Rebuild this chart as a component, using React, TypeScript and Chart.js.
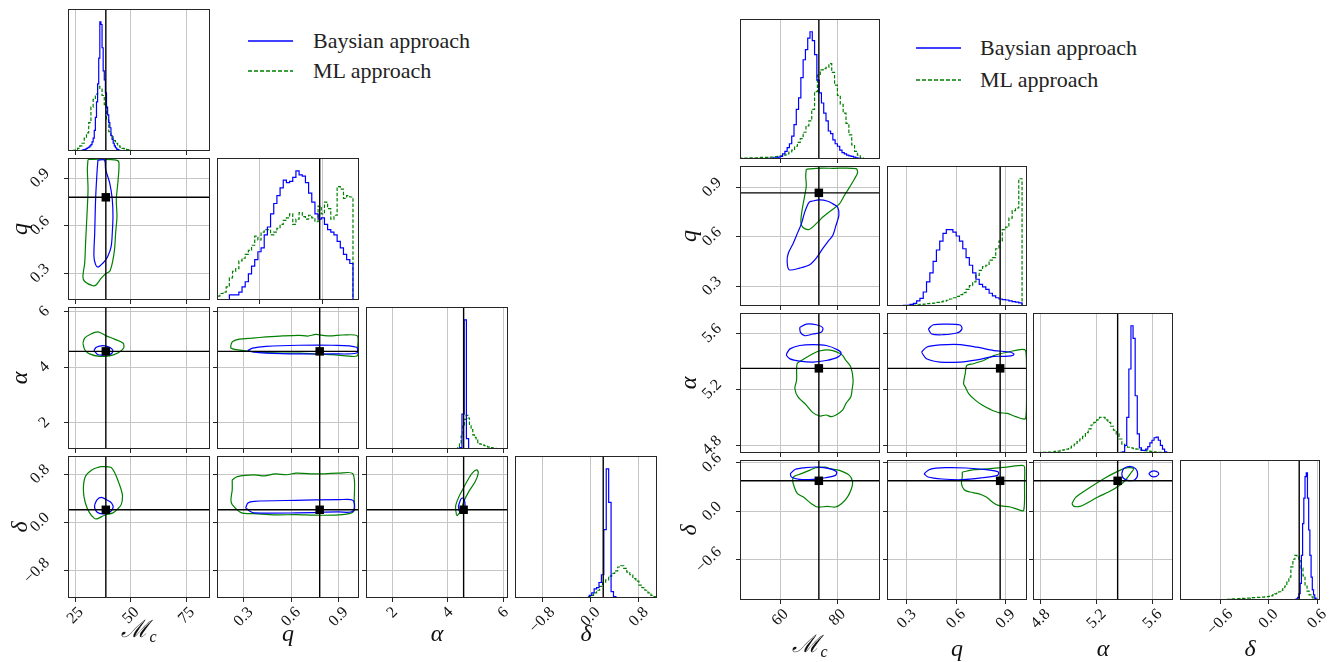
import React, { useEffect, useRef } from "react";
import { Chart, registerables } from "chart.js";

Chart.register(...registerables);

const FONT = '"Liberation Serif", "DejaVu Serif", serif';
const BLUE = "#0000ff";
const GREEN = "#008000";

// ======================= LEFT CORNER PLOT =======================
// variable order: Mc, q, alpha, delta
const truthsL = [38.7, 0.78, 4.57, 0.21];
const rangesL = [[21.7, 85.5], [0.132, 1.028], [1.05, 6.17], [-1.25, 1.1]];
const ticksL = [[25, 50, 75], [0.3, 0.6, 0.9], [2, 4, 6], [-0.8, 0, 0.8]];
const histTicksL = [[25, 50, 75], [0.4, 0.8], [2, 4, 6], [-0.8, 0, 0.8]];
const tickLabelsL = [["25", "50", "75"], ["0.3", "0.6", "0.9"], ["2", "4", "6"], ["−0.8", "0.0", "0.8"]];

// histograms: values + [first bin edge, bin width]
const histMcBlueL = [0.5, 1, 1, 1.5, 2, 2.5, 3, 4, 5, 7, 10, 16, 26, 38, 52, 72, 100, 98, 80, 62, 55, 45, 34, 28, 22, 18, 12, 9, 6, 4, 2.5, 1.5, 1, 0.5, 0.3];
const binsMcBlueL = [28, 0.5];
const histMcGreenL = [0.5, 1, 2, 4, 6, 10, 14, 22, 34, 40, 44, 50, 48, 43, 36, 24, 15, 11, 8, 6, 4, 3, 2, 1.5, 1, 0.5, 0.3];
const binsMcGreenL = [24, 1];
const histQBlueL = [4, 4, 4, 6, 10, 14, 20, 26, 31, 37, 40, 50, 56, 66, 74, 80, 86, 92, 90, 91, 94, 99, 96, 95, 90, 82, 75, 66, 62, 63, 58, 54, 52, 50, 45, 40, 35, 31, 28];
const binsQBlueL = [0.21, 0.02];
const histQGreenL = [3, 5, 6, 10, 17, 22, 24, 30, 32, 35, 38, 42, 49, 46, 52, 54, 54, 50, 52, 55, 58, 61, 63, 66, 58, 62, 67, 64, 62, 65, 63, 60, 72, 66, 75, 70, 62, 65, 87, 85, 78, 80, 79];
const binsQGreenL = [0.13, 0.02];
const histABlueL = [1, 27, 100, 8];
const binsABlueL = [4.43, 0.08];
const histAGreenL = [1, 4, 10, 18, 23, 26, 24, 19, 15, 11, 9, 7, 5, 4, 3.5, 3, 2.5, 2, 1.5, 1, 1, 0.7, 0.5, 0.3];
const binsAGreenL = [4.36, 0.06];
const histDBlueL = [2, 4, 7, 8, 12, 18, 53, 100, 74, 5, 1];
const binsDBlueL = [-0.02, 0.04];
const histDGreenL = [1, 2, 4, 6, 9, 12, 14, 17, 19, 21, 24, 25, 23, 20, 18, 15, 13, 10, 8, 6, 4, 2, 1];
const binsDGreenL = [-0.05, 0.05];

// contours: [x, y] pairs
const cQMcBL = [[35.15, 1.015], [38.1, 1.015], [38.6, 0.956], [40.4, 0.872], [41.6, 0.766], [41.9, 0.661], [41.6, 0.555], [41.1, 0.471], [39.6, 0.408], [38.1, 0.376], [36.65, 0.355], [35.15, 0.34], [34.1, 0.355], [33.35, 0.408], [33.7, 0.555], [34.1, 0.766], [34.7, 0.93]];
const cQMcGL = [[30.7, 1.019], [37, 1.02], [43.4, 1.015], [44.6, 0.998], [44.1, 0.872], [43.4, 0.766], [43.7, 0.661], [43.1, 0.555], [42.6, 0.45], [41.6, 0.365], [40.4, 0.313], [38.6, 0.298], [36.65, 0.27], [34.4, 0.228], [32.9, 0.222], [29.2, 0.249], [28.4, 0.281], [29.2, 0.365], [29.6, 0.492], [30.2, 0.661], [30.7, 0.83], [30.4, 0.956]];
const cAMcBL = [[33.35, 4.6], [34.4, 4.72], [37.4, 4.78], [40.4, 4.72], [41.9, 4.6], [41.1, 4.48], [38.1, 4.44], [35.15, 4.45]];
const cAMcGL = [[28.4, 4.87], [29.2, 5.05], [31.4, 5.17], [35.15, 5.27], [38.9, 5.13], [42.6, 5.01], [46.4, 4.87], [46.7, 4.69], [44.1, 4.51], [40.4, 4.41], [35.9, 4.39], [31.4, 4.48], [29.2, 4.63]];
const cAQBL = [[0.325, 4.6], [0.357, 4.69], [0.441, 4.75], [0.65, 4.79], [0.86, 4.79], [1.013, 4.72], [1.013, 4.51], [0.86, 4.48], [0.65, 4.48], [0.441, 4.51], [0.357, 4.55]];
const cAQGL = [[0.22, 4.81], [0.231, 4.93], [0.273, 5.01], [0.357, 5.05], [0.441, 5.09], [0.545, 5.13], [0.65, 5.15], [0.705, 5.12], [0.755, 5.18], [0.81, 5.14], [0.86, 5.13], [0.923, 5.16], [1.017, 5.13], [1.02, 4.75], [1.017, 4.41], [0.944, 4.41], [0.86, 4.45], [0.755, 4.48], [0.65, 4.51], [0.545, 4.51], [0.441, 4.53], [0.336, 4.57], [0.252, 4.63], [0.22, 4.69]];
const cDMcBL = [[33.7, 0.295], [34.8, 0.377], [36.7, 0.415], [39.0, 0.377], [41.3, 0.322], [41.9, 0.24], [40.0, 0.158], [37.1, 0.141], [34.8, 0.169], [33.7, 0.24]];
const cDMcGL = [[36.2, 0.925], [40.9, 0.914], [42.8, 0.815], [44.3, 0.678], [45.6, 0.541], [46.2, 0.432], [45.6, 0.295], [43.75, 0.213], [41.9, 0.158], [38.1, 0.12], [34.8, 0.06], [33.3, 0.076], [31.4, 0.158], [29.5, 0.322], [28.6, 0.541], [29.5, 0.76], [32.4, 0.87]];
const cDQBL = [[0.313, 0.24], [0.327, 0.322], [0.366, 0.35], [0.631, 0.366], [0.897, 0.377], [0.99, 0.366], [0.99, 0.185], [0.897, 0.174], [0.631, 0.158], [0.366, 0.158], [0.34, 0.185]];
const cDQGL = [[0.228, 0.706], [0.26, 0.76], [0.366, 0.788], [0.43, 0.77], [0.499, 0.804], [0.57, 0.79], [0.631, 0.815], [0.764, 0.804], [0.897, 0.815], [0.99, 0.804], [0.998, 0.377], [0.995, 0.185], [0.923, 0.13], [0.764, 0.12], [0.631, 0.13], [0.499, 0.125], [0.366, 0.147], [0.287, 0.158], [0.228, 0.295], [0.22, 0.377], [0.228, 0.541]];
const cDABL = [[4.38, 0.267], [4.46, 0.377], [4.53, 0.404], [4.61, 0.35], [4.61, 0.24], [4.53, 0.158], [4.43, 0.169]];
const cDAGL = [[4.31, 0.13], [4.28, 0.267], [4.38, 0.404], [4.53, 0.541], [4.69, 0.678], [4.88, 0.815], [5.04, 0.87], [5.1, 0.826], [4.99, 0.678], [4.76, 0.514], [4.58, 0.35], [4.46, 0.185], [4.34, 0.114]];

// ======================= RIGHT CORNER PLOT =======================
const truthsR = [73.5, 0.867, 5.35, 0.378];
const rangesR = [[45.9, 94.9], [0.18, 1.03], [4.746, 5.745], [-1.095, 0.635]];
const ticksR = [[60, 80], [0.3, 0.6, 0.9], [4.8, 5.2, 5.6], [-0.6, 0, 0.6]];
const histTicksR = [[60, 80], [0.3, 0.6, 0.9], [4.8, 5.2, 5.6], [-0.6, 0, 0.6]];
const tickLabelsR = [["60", "80"], ["0.3", "0.6", "0.9"], ["4.8", "5.2", "5.6"], ["−0.6", "0.0", "0.6"]];

const histMcBlueR = [0.5, 0.5, 1, 1, 1.5, 2, 4, 6, 9, 12, 18, 27, 39, 48, 64, 78, 86, 95, 100, 93, 82, 62, 52, 44, 36, 30, 22, 20, 15, 12, 10, 7, 5, 4, 3, 2.5, 2, 1.5, 1, 0.5, 0.3];
const binsMcBlueR = [56, 0.8];
const histMcGreenR = [0.8, 0.8, 0.8, 1, 1, 1, 1, 1.2, 1.2, 1.3, 1.5, 1.5, 1.8, 2, 2.5, 3, 4, 5.5, 7, 10, 13, 16, 21, 26, 30, 39, 53, 66, 70, 71, 72, 75, 68, 58, 50, 43, 36, 28, 19, 11, 6, 3, 1];
const binsMcGreenR = [46, 1];
const histQBlueR = [0.3, 0.4, 0.5, 0.6, 1.2, 2, 4, 6, 11, 19, 26, 35, 44, 51, 57, 60, 60, 58, 55, 51, 45, 38, 32, 26, 21, 17, 15, 13, 10, 8, 6.5, 5.5, 5, 4.7, 4, 3.5, 3, 2.4];
const binsQBlueR = [0.24, 0.02];
const histQGreenR = [0.2, 0.2, 0.3, 0.3, 0.4, 0.4, 0.5, 0.6, 0.8, 1, 1.2, 1.5, 1.8, 2, 2.3, 2.8, 3.2, 3.8, 4.5, 5.5, 6.5, 7.5, 9, 10.5, 13, 16, 19, 24, 28, 31, 32, 36, 38, 45, 51, 60, 62, 69, 75, 77, 100];
const binsQGreenR = [0.18, 0.02];
const histABlueR = [0.5, 1, 6, 28, 66, 100, 90, 45, 15, 4, 2, 2, 3, 5, 8, 10, 12, 12.5, 10, 6, 3, 1];
const binsABlueR = [5.37, 0.015];
const histAGreenR = [0.3, 0.4, 0.5, 0.6, 0.7, 0.8, 1, 1.2, 1.5, 2, 2.5, 3, 4, 5.5, 7, 9, 11, 13, 16, 19, 22, 24, 26, 28, 28, 26, 24, 21, 18, 15, 11, 7, 5, 4.5, 4, 3.5, 3, 2.5, 2, 1.8, 1.5, 1.2, 1, 0.8, 0.5, 0.4, 0.3];
const binsAGreenR = [4.76, 0.02];
const histDBlueR = [0.5, 1, 2, 5, 13, 35, 60, 80, 97, 100, 80, 55, 35, 18, 8, 4, 1.5, 0.5];
const binsDBlueR = [0.33, 0.015];
const histDGreenR = [0.3, 0.3, 0.4, 0.5, 0.6, 0.7, 0.9, 1, 1, 1.1, 1.2, 1.3, 1.3, 1.4, 1.5, 1.6, 1.8, 1.9, 2, 2.1, 2.2, 2.3, 2.4, 2.6, 2.8, 3.3, 4, 4.8, 5.5, 6.5, 7.5, 9, 11, 14, 18, 26, 32, 35, 34, 31, 25, 19, 11, 7, 4, 2.5, 1.2, 0.5];
const binsDGreenR = [-0.6, 0.025];

const cQMcBR = [[70.3, 0.814], [73.8, 0.824], [76.6, 0.816], [78.4, 0.8], [80.1, 0.78], [80.5, 0.73], [79.5, 0.67], [78.4, 0.61], [76.6, 0.57], [74.9, 0.53], [72.6, 0.47], [70.3, 0.43], [66.8, 0.41], [63.1, 0.4], [62.4, 0.45], [62.8, 0.5], [64.5, 0.56], [66.2, 0.63], [67.4, 0.68], [68.55, 0.75], [69.7, 0.8]];
const cQMcGR = [[69.1, 1.01], [72.6, 1.016], [78.4, 1.016], [86.5, 1.014], [87.05, 0.99], [85.9, 0.95], [84.2, 0.9], [82.4, 0.85], [80.7, 0.8], [77.8, 0.76], [74.9, 0.72], [72.6, 0.68], [70.3, 0.646], [68.55, 0.65], [67.4, 0.67], [67.2, 0.7], [67.7, 0.77], [68.55, 0.85], [69.1, 0.91], [68.9, 0.97]];
const cAMcB1R = [[66.8, 5.642], [69.1, 5.666], [72.6, 5.661], [74.9, 5.638], [74.3, 5.607], [71.4, 5.595], [68.55, 5.583], [67.05, 5.607]];
const cAMcB2R = [[62.2, 5.454], [63.4, 5.489], [66.8, 5.513], [71.4, 5.52], [76.1, 5.513], [80.1, 5.482], [81.3, 5.458], [80.1, 5.43], [76.1, 5.406], [71.4, 5.395], [66.8, 5.402], [63.4, 5.418], [62.2, 5.442]];
const cAMcGR = [[73.2, 5.472], [76.1, 5.482], [78.4, 5.477], [80.7, 5.458], [81.8, 5.442], [83.0, 5.406], [84.7, 5.359], [85.5, 5.265], [85.1, 5.194], [84.7, 5.147], [83.0, 5.1], [81.8, 5.052], [79.5, 5.017], [77.8, 5.005], [76.1, 5.017], [73.8, 5.01], [71.4, 5.034], [69.1, 5.088], [66.2, 5.147], [65.1, 5.206], [65.7, 5.265], [65.9, 5.383], [67.4, 5.406], [70.3, 5.442]];
const cAQB1R = [[0.431, 5.631], [0.461, 5.661], [0.543, 5.666], [0.624, 5.659], [0.635, 5.631], [0.604, 5.602], [0.522, 5.59], [0.451, 5.595]];
const cAQB2R = [[0.39, 5.465], [0.42, 5.501], [0.502, 5.517], [0.624, 5.52], [0.727, 5.501], [0.829, 5.477], [0.931, 5.465], [0.951, 5.449], [0.92, 5.437], [0.829, 5.435], [0.727, 5.411], [0.624, 5.395], [0.502, 5.395], [0.42, 5.418]];
const cAQGR = [[0.767, 5.406], [0.829, 5.442], [0.91, 5.465], [1.022, 5.477], [1.027, 5.24], [1.022, 4.994], [0.961, 5.005], [0.91, 5.029], [0.859, 5.034], [0.808, 5.057], [0.757, 5.088], [0.716, 5.123], [0.676, 5.17], [0.655, 5.218], [0.645, 5.241], [0.655, 5.312], [0.665, 5.371], [0.706, 5.383]];
const cDMcBR = [[63.5, 0.466], [65.3, 0.52], [68.8, 0.54], [73.0, 0.548], [77.2, 0.528], [79.7, 0.487], [79.3, 0.445], [75.8, 0.416], [71.6, 0.396], [66.7, 0.396], [63.9, 0.425]];
const cDMcGR = [[72.3, 0.54], [75.8, 0.548], [77.2, 0.528], [80.7, 0.507], [84.2, 0.445], [85.3, 0.363], [84.9, 0.28], [83.5, 0.177], [81.4, 0.095], [79.3, 0.054], [76.5, 0.062], [73.0, 0.054], [70.9, 0.095], [68.1, 0.177], [66.0, 0.219], [64.9, 0.301], [64.3, 0.384], [64.9, 0.433], [67.4, 0.466], [70.2, 0.507]];
const cDQBR = [[0.405, 0.466], [0.441, 0.52], [0.539, 0.54], [0.661, 0.536], [0.783, 0.515], [0.856, 0.487], [0.851, 0.445], [0.759, 0.416], [0.637, 0.392], [0.515, 0.4], [0.429, 0.425]];
const cDQGR = [[0.637, 0.487], [0.71, 0.515], [0.807, 0.528], [0.905, 0.548], [1.002, 0.569], [1.015, 0.548], [1.015, 0.342], [1.01, 0.012], [0.978, 0.021], [0.929, 0.054], [0.856, 0.074], [0.82, 0.115], [0.783, 0.177], [0.734, 0.219], [0.685, 0.239], [0.649, 0.268], [0.632, 0.342], [0.637, 0.425]];
const cDAGR = [[5.024, 0.095], [5.052, 0.177], [5.138, 0.28], [5.251, 0.404], [5.365, 0.507], [5.422, 0.54], [5.464, 0.528], [5.45, 0.487], [5.393, 0.363], [5.308, 0.26], [5.209, 0.177], [5.123, 0.095], [5.081, 0.062], [5.038, 0.062]];
const cDAB1R = [[5.379, 0.466], [5.393, 0.528], [5.436, 0.557], [5.478, 0.528], [5.493, 0.458], [5.473, 0.392], [5.422, 0.384], [5.388, 0.416]];
const cDAB2R = [[5.572, 0.466], [5.592, 0.495], [5.626, 0.495], [5.643, 0.466], [5.626, 0.433], [5.592, 0.433]];

const legendLabels = ["Baysian approach", "ML approach"];
const axisTitles = ["Mc", "q", "α", "δ"];

// ---------------- tables built from the arrays above ----------------
const histsL = [
  [histMcBlueL, binsMcBlueL, histMcGreenL, binsMcGreenL],
  [histQBlueL, binsQBlueL, histQGreenL, binsQGreenL],
  [histABlueL, binsABlueL, histAGreenL, binsAGreenL],
  [histDBlueL, binsDBlueL, histDGreenL, binsDGreenL],
];
const histsR = [
  [histMcBlueR, binsMcBlueR, histMcGreenR, binsMcGreenR],
  [histQBlueR, binsQBlueR, histQGreenR, binsQGreenR],
  [histABlueR, binsABlueR, histAGreenR, binsAGreenR],
  [histDBlueR, binsDBlueR, histDGreenR, binsDGreenR],
];
const contoursL: Record<string, number[][][][]> = {
  "1,0": [[cQMcBL], [cQMcGL]],
  "2,0": [[cAMcBL], [cAMcGL]],
  "2,1": [[cAQBL], [cAQGL]],
  "3,0": [[cDMcBL], [cDMcGL]],
  "3,1": [[cDQBL], [cDQGL]],
  "3,2": [[cDABL], [cDAGL]],
};
const contoursR: Record<string, number[][][][]> = {
  "1,0": [[cQMcBR], [cQMcGR]],
  "2,0": [[cAMcB1R, cAMcB2R], [cAMcGR]],
  "2,1": [[cAQB1R, cAQB2R], [cAQGR]],
  "3,0": [[cDMcBR], [cDMcGR]],
  "3,1": [[cDQBR], [cDQGR]],
  "3,2": [[cDAB1R, cDAB2R], [cDAGR]],
};

// layout (pixels)
const colsL = [68, 217, 366, 515];
const rowsL = [9, 158, 307, 456];
const sizeL = 142;
const colsR = [740, 887, 1033, 1180];
const rowsR = [19, 166, 313, 460];
const sizeR = 140;

const PADL = 64, PADR = 8, PADT = 8, PADB = 56;

function histLine(values: number[], bins: number[], xr: number[], color: string, dashed: boolean) {
  const [start, w] = bins;
  const pts: { x: number; y: number }[] = [{ x: xr[0], y: 0 }];
  values.forEach((v, i) => pts.push({ x: start + i * w, y: v }));
  pts.push({ x: start + values.length * w, y: 0 });
  pts.push({ x: xr[1], y: 0 });
  return {
    data: pts, borderColor: color, borderWidth: 1.2, borderDash: dashed ? [3.5, 1.8] : [],
    stepped: true, pointRadius: 0, tension: 0, order: dashed ? 3 : 2,
  };
}
function contourLine(pts: number[][], color: string, order: number) {
  const d = [...pts, pts[0]].map(([x, y]) => ({ x, y }));
  return { data: d, borderColor: color, borderWidth: 1.2, pointRadius: 0, tension: 0.3, order };
}
function truthV(t: number, yr: number[]) {
  return { data: [{ x: t, y: yr[0] }, { x: t, y: yr[1] }], borderColor: "#000", borderWidth: 1.4, pointRadius: 0, tension: 0, order: 1 };
}
function truthH(t: number, xr: number[]) {
  return { data: [{ x: xr[0], y: t }, { x: xr[1], y: t }], borderColor: "#000", borderWidth: 1.4, pointRadius: 0, tension: 0, order: 1 };
}
function marker(tx: number, ty: number) {
  return {
    data: [{ x: tx, y: ty }], showLine: false, pointRadius: 6, pointStyle: "rect",
    pointBackgroundColor: "#000", pointBorderWidth: 0, borderColor: "#000", order: 0,
  };
}

type PanelSpec = {
  key: string; left: number; top: number; size: number;
  xr: number[]; yr: number[]; xTicks: number[]; yTicks: number[] | null;
  xLabels: string[] | null; yLabels: string[] | null; datasets: any[];
};

function buildCorner(cols: number[], rows: number[], size: number, ranges: number[][], truths: number[],
  ticks: number[][], histTicks: number[][], tickLabels: string[][], hists: any[][], contours: Record<string, number[][][][]>, tag: string) {
  const panels: PanelSpec[] = [];
  for (let i = 0; i < 4; i++) {
    for (let j = 0; j <= i; j++) {
      const xr = ranges[j];
      const bottom = i === 3;
      if (i === j) {
        const [hb, bb, hg, bg] = hists[i];
        const yr = [0, 1.1 * Math.max(...hb, ...hg)];
        panels.push({
          key: `${tag}${i}${j}`, left: cols[j], top: rows[i], size, xr, yr,
          xTicks: histTicks[j], yTicks: null, xLabels: bottom ? tickLabels[j] : null, yLabels: null,
          datasets: [truthV(truths[j], yr), histLine(hb, bb, xr, BLUE, false), histLine(hg, bg, xr, GREEN, true)],
        });
      } else {
        const yr = ranges[i];
        const [blues, greens] = contours[`${i},${j}`];
        panels.push({
          key: `${tag}${i}${j}`, left: cols[j], top: rows[i], size, xr, yr,
          xTicks: ticks[j], yTicks: ticks[i], xLabels: bottom ? tickLabels[j] : null, yLabels: j === 0 ? tickLabels[i] : null,
          datasets: [
            marker(truths[j], truths[i]), truthV(truths[j], yr), truthH(truths[i], xr),
            ...blues.map((c) => contourLine(c, BLUE, 2)), ...greens.map((c) => contourLine(c, GREEN, 3)),
          ],
        });
      }
    }
  }
  return panels;
}

function axis(r: number[], ticks: number[] | null, horizontal: boolean) {
  return {
    type: "linear", min: r[0], max: r[1],
    afterBuildTicks: (s: any) => { s.ticks = (ticks || []).map((v) => ({ value: v })); },
    afterFit: (s: any) => { if (horizontal) s.height = 0; else s.width = 0; },
    ticks: { display: false },
    border: { display: false },
    grid: { display: ticks != null, color: "#c6c6c6", lineWidth: 1, drawTicks: true, tickLength: 4, tickColor: "#262626", tickWidth: 1 },
  };
}

function Panel({ spec }: { spec: PanelSpec }) {
  const ref = useRef<HTMLCanvasElement>(null);
  const cw = spec.size + PADL + PADR, ch = spec.size + PADT + PADB;
  useEffect(() => {
    const { xr, yr, xTicks, yTicks, xLabels, yLabels, datasets } = spec;
    const framePlugin = {
      id: "frame",
      afterDatasetsDraw(chart: any) {
        const { ctx, chartArea: a } = chart;
        ctx.save();
        ctx.strokeStyle = "#262626";
        ctx.lineWidth = 1;
        ctx.strokeRect(a.left + 0.5, a.top + 0.5, a.right - a.left - 1, a.bottom - a.top - 1);
        ctx.restore();
      },
    };
    const labelPlugin = {
      id: "tickText",
      afterDraw(chart: any) {
        const { ctx, chartArea: a } = chart;
        ctx.save();
        ctx.font = `16px ${FONT}`;
        ctx.fillStyle = "#111";
        ctx.textAlign = "center";
        ctx.textBaseline = "middle";
        const th = 11;
        if (xLabels) {
          xTicks.forEach((v, i) => {
            const px = chart.scales.x.getPixelForValue(v);
            const tw = ctx.measureText(xLabels[i]).width;
            const d = ((tw + th) * Math.SQRT1_2) / 2;
            ctx.save();
            ctx.translate(px, a.bottom + 8 + d);
            ctx.rotate(-Math.PI / 4);
            ctx.fillText(xLabels[i], 0, 0);
            ctx.restore();
          });
        }
        if (yLabels && yTicks) {
          yTicks.forEach((v, i) => {
            const py = chart.scales.y.getPixelForValue(v);
            const tw = ctx.measureText(yLabels[i]).width;
            const d = ((tw + th) * Math.SQRT1_2) / 2;
            ctx.save();
            ctx.translate(a.left - 17 - d, py);
            ctx.rotate(-Math.PI / 4);
            ctx.fillText(yLabels[i], 0, 0);
            ctx.restore();
          });
        }
        ctx.restore();
      },
    };
    const chart = new Chart(ref.current as HTMLCanvasElement, {
      type: "line",
      data: { datasets },
      options: {
        responsive: false,
        animation: false,
        devicePixelRatio: 1,
        events: [],
        layout: { padding: { left: PADL, right: PADR, top: PADT, bottom: PADB } },
        plugins: { legend: { display: false }, tooltip: { enabled: false } },
        scales: { x: axis(xr, xTicks, true), y: axis(yr, yTicks, false) },
      } as any,
      plugins: [framePlugin, labelPlugin],
    });
    return () => chart.destroy();
  }, []);
  return (
    <canvas
      ref={ref}
      width={cw}
      height={ch}
      style={{ position: "absolute", left: spec.left - PADL, top: spec.top - PADT, width: cw, height: ch }}
    />
  );
}

function Title({ text, x, y, vertical }: { text: string; x: number; y: number; vertical?: boolean }) {
  const content = text === "Mc" ? (<span>ℳ<sub style={{ fontSize: 16, verticalAlign: "-5px" }}>c</sub></span>) : text;
  return (
    <div
      style={{
        position: "absolute", left: x, top: y, font: `italic 24px ${FONT}`, color: "#111", lineHeight: "28px",
        whiteSpace: "nowrap", transform: `translate(-50%, -50%)${vertical ? " rotate(-90deg)" : ""}`,
      }}
    >
      {content}
    </div>
  );
}

function Legend({ x, y1, y2, tx }: { x: number; y1: number; y2: number; tx: number }) {
  const textStyle = (y: number) => ({
    position: "absolute" as const, left: tx, top: y - 14, font: `22px ${FONT}`, color: "#222",
    lineHeight: "28px", whiteSpace: "nowrap" as const,
  });
  return (
    <>
      <svg style={{ position: "absolute", left: x, top: y1 - 5 }} width={46} height={10}>
        <line x1={0} y1={5} x2={45} y2={5} stroke={BLUE} strokeWidth={1.3} />
      </svg>
      <div style={textStyle(y1)}>{legendLabels[0]}</div>
      <svg style={{ position: "absolute", left: x, top: y2 - 5 }} width={46} height={10}>
        <line x1={0} y1={5} x2={45} y2={5} stroke={GREEN} strokeWidth={1.3} strokeDasharray="4 2" />
      </svg>
      <div style={textStyle(y2)}>{legendLabels[1]}</div>
    </>
  );
}

export default function App() {
  const panels = [
    ...buildCorner(colsL, rowsL, sizeL, rangesL, truthsL, ticksL, histTicksL, tickLabelsL, histsL, contoursL, "L"),
    ...buildCorner(colsR, rowsR, sizeR, rangesR, truthsR, ticksR, histTicksR, tickLabelsR, histsR, contoursR, "R"),
  ];
  return (
    <div style={{ position: "absolute", left: 0, top: 0, width: 1343, height: 662, background: "#fff", overflow: "hidden" }}>
      {panels.map((p) => (<Panel key={p.key} spec={p} />))}
      {axisTitles.map((t, j) => (<Title key={"lx" + j} text={t} x={colsL[j] + sizeL / 2} y={633} />))}
      {axisTitles.slice(1).map((t, k) => (<Title key={"ly" + k} text={t} x={19} y={rowsL[k + 1] + sizeL / 2} vertical />))}
      {axisTitles.map((t, j) => (<Title key={"rx" + j} text={t} x={colsR[j] + sizeR / 2} y={648} />))}
      {axisTitles.slice(1).map((t, k) => (<Title key={"ry" + k} text={t} x={688} y={rowsR[k + 1] + sizeR / 2} vertical />))}
      <Legend x={248} y1={41} y2={71} tx={313} />
      <Legend x={916} y1={48} y2={80} tx={980} />
    </div>
  );
}
